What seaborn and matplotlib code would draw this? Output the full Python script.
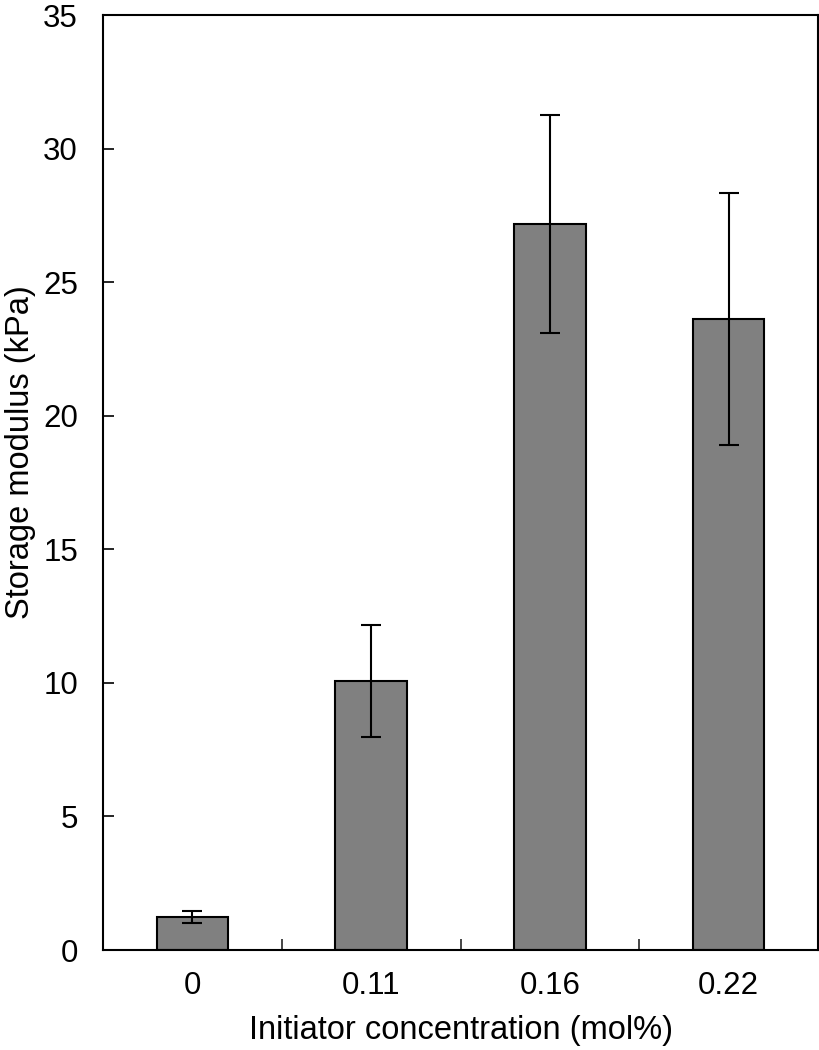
import matplotlib
matplotlib.use("Agg")
import matplotlib.pyplot as plt
import seaborn as sns
import pandas as pd
import numpy as np

categories = ["0", "0.11", "0.16", "0.22"]
modulus = [1.24, 10.06, 27.18, 23.62]
errors = [0.22, 2.10, 4.08, 4.72]
yticks = [0, 5, 10, 15, 20, 25, 30, 35]

sns.set_theme(style="white")
plt.rcParams['font.family'] = ['Liberation Sans', 'DejaVu Sans']

df = pd.DataFrame({"conc": categories, "G": modulus})

fig = plt.figure(figsize=(8.2, 10.5), dpi=100)
ax = fig.add_axes([0.1256, 0.0952, 0.8720, 0.8905])

sns.barplot(data=df, x="conc", y="G", order=categories, color="#808080",
            saturation=1, width=0.4, edgecolor="black", linewidth=1.5,
            errorbar=None, ax=ax)
xpos = np.arange(len(categories))
ax.errorbar(xpos, modulus, yerr=errors, fmt="none", ecolor="black",
            elinewidth=1.5, capsize=7, capthick=1.5, zorder=5)

ax.set_xlim(-0.5, len(categories) - 0.5)
ax.set_ylim(0, 35)
ax.set_yticks(yticks)
ax.set_yticklabels([str(t) for t in yticks])
ax.set_xticks(xpos)
ax.set_xticklabels(categories)
ax.set_xticks(np.arange(0.5, len(categories) - 1, 1.0), minor=True)

for s in ax.spines.values():
    s.set_visible(True)
    s.set_color("black")
    s.set_linewidth(1.5)

ax.tick_params(axis="y", which="major", direction="in", length=8, width=1.2,
               left=True, right=False, labelsize=22.5, pad=18, colors="black")
ax.tick_params(axis="x", which="major", length=0, labelsize=22.5, pad=15,
               bottom=True, colors="black")
ax.tick_params(axis="x", which="minor", direction="in", length=8, width=1.2,
               bottom=True, top=False)

ax.set_xlabel("Initiator concentration (mol%)", fontsize=23.5, labelpad=10, color="black")
ax.set_ylabel("Storage modulus (kPa)", fontsize=23.5, color="black")
ax.yaxis.set_label_coords(-0.093, 0.533)

fig.savefig("out.png", dpi=100, facecolor="white")
